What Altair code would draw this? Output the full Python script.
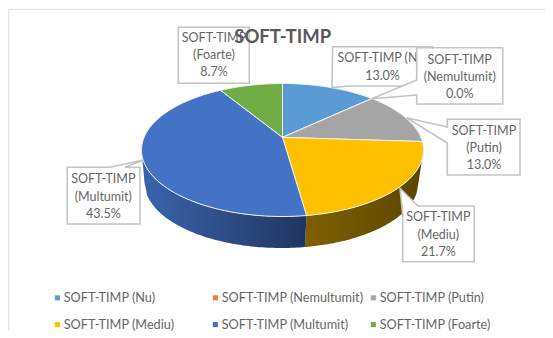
import math
import altair as alt

# ---- chart values ----
categories = ["SOFT-TIMP (Nu)", "SOFT-TIMP (Nemultumit)", "SOFT-TIMP (Putin)",
              "SOFT-TIMP (Mediu)", "SOFT-TIMP (Multumit)", "SOFT-TIMP (Foarte)"]
percent = [13.0, 0.0, 13.0, 21.7, 43.5, 8.7]
colors = ["#5B9BD5", "#ED7D31", "#A5A5A5", "#FFC000", "#4472C4", "#70AD47"]
label_names = [["SOFT-TIMP (Nu)"], ["SOFT-TIMP", "(Nemultumit)"], ["SOFT-TIMP", "(Putin)"],
               ["SOFT-TIMP", "(Mediu)"], ["SOFT-TIMP", "(Multumit)"], ["SOFT-TIMP", "(Foarte)"]]
legend_sequence = [0, 3, 1, 4, 2, 5]   # the legend fills its grid column by column

# ---- layout (image pixels; the page margin is removed below) ----
M = 8
W, H = 537, 322
CX, CY, RX, RY = 282.5, 150.0, 141.0, 66.5     # top ellipse
BX, BY, BRX, BRY = 281.5, 182.5, 137.0, 65.5   # bottom ellipse
TILT = 0.19                                     # apex offset of the perspective
FONT = "Lato"
TEXT = "#666666"
BOX = "#c4c4c4"
LINE = 17.2

label_outlines = [
    [(332.7, 46.7), (432.7, 46.7), (432.7, 86), (349, 86), (332, 87.5)],
    [(416.7, 47.7), (502.7, 47.7), (502.7, 104), (416.7, 104), (416.7, 95), (371.7, 98.7), (416.7, 80)],
    [(447.3, 119.3), (520, 119.3), (520, 175), (447.3, 175), (447.3, 143), (406.7, 117.7), (447.3, 127)],
    [(402.7, 261.7), (402.7, 215), (400, 188.3), (418, 206), (474.3, 206), (474.3, 261.7)],
    [(67.3, 167.3), (110, 167.3), (143.3, 160), (125, 167.3), (140, 167.3), (140, 224), (67.3, 224)],
    [(178.3, 27.3), (249.3, 27.3), (249.3, 83.3), (178.3, 83.3)],
]
label_text_at = [(382.5, 58.3), (459.7, 60.0), (484.0, 131.0), (438.3, 217.3), (103.3, 179.3), (214.0, 38.0)]


def px(x, y):
    return [x - M, y - M]


def feature(ring, **props):
    return {"type": "Feature", "properties": props,
            "geometry": {"type": "Polygon", "coordinates": [ring + [ring[0]]]}}


def rim(frac):
    """Point on the top ellipse for a pie fraction, seen in perspective."""
    a = 2 * math.pi * frac
    u, v = math.sin(a), math.cos(a)
    d = 1 + TILT * v
    return u * math.sqrt(1 - TILT ** 2) / d, (v + TILT) / d


APEX = px(CX, CY - RY * TILT)

top_features = []
edges = [0.0]
for p in percent:
    edges.append(edges[-1] + p / sum(percent))
for i, cat in enumerate(categories):
    ring = [APEX]
    n = max(2, int((edges[i + 1] - edges[i]) * 180))
    for k in range(n + 1):
        u, v = rim(edges[i] + (edges[i + 1] - edges[i]) * k / n)
        ring.append(px(CX + RX * u, CY - RY * v))
    top_features.append(feature(ring, cat=cat))


def wall(x0, x1):
    """Side wall between the two ellipses, x0/x1 in -1..1 along the front edge."""
    n = 60
    upper, lower = [], []
    for k in range(n + 1):
        t = x0 + (x1 - x0) * k / n
        s = math.sqrt(max(0.0, 1 - t * t))
        upper.append(px(CX + RX * t, CY + RY * s))
        lower.append(px(BX + BRX * t, BY + BRY * s))
    return upper + lower[::-1]


seam = rim(edges[4])[0]   # front seam between Mediu and Multumit
wall_mediu = [feature(wall(seam, 1.0), cat=categories[3])]
wall_multumit = [feature(wall(-1.0, seam), cat=categories[4])]

box_features = [feature([px(*q) for q in o], order=i) for i, o in enumerate(label_outlines)]
text_rows = []
for i, (c, y0) in enumerate(label_text_at):
    for j, s in enumerate(label_names[i] + [f"{percent[i]:.1f}%"]):
        text_rows.append({"t": s, "x": c - M, "y": y0 + j * LINE - M, "k": i})

PROJ = dict(type="identity", scale=1, translate=[0, 0])


def geo(feats):
    return alt.Chart(alt.Data(values=feats), width=W, height=H)


def wall_layer(feats, c0, c1):
    return geo(feats).mark_geoshape(
        fill=alt.Gradient(gradient="linear", x1=0, x2=1, y1=0, y2=0,
                          stops=[alt.GradientStop(color=c0, offset=0),
                                 alt.GradientStop(color=c1, offset=1)]),
        strokeWidth=0).project(**PROJ)


def box_layer(feats):
    return geo(feats).mark_geoshape(fill="white", stroke=BOX, strokeWidth=1.6).project(**PROJ)


def text_layer(rows):
    return alt.Chart(alt.Data(values=rows)).mark_text(
        font=FONT, fontSize=12.5, color=TEXT, align="center", baseline="middle").encode(
        x=alt.X("x:Q", scale=None), y=alt.Y("y:Q", scale=None), text="t:N")


frame = alt.Chart(alt.Data(values=[{"a": 0}])).mark_rule(color="#e4e4e4", strokeWidth=1.5).encode(
    x=alt.value(0), x2=alt.value(W), y=alt.value(1.5))
frame_left = alt.Chart(alt.Data(values=[{"a": 0}])).mark_rule(color="#e4e4e4", strokeWidth=1.5).encode(
    x=alt.value(0.7), y=alt.value(1.5), y2=alt.value(H))

top = geo(top_features).mark_geoshape(stroke="#f2f2f2", strokeWidth=1).encode(
    color=alt.Color("properties.cat:N",
                    scale=alt.Scale(domain=[categories[i] for i in legend_sequence],
                                    range=[colors[i] for i in legend_sequence]),
                    legend=alt.Legend(title=None, orient="none", legendX=43, legendY=283,
                                      columns=3, gridAlign="all", columnPadding=3,
                                      rowPadding=13.2, symbolType="square", symbolSize=26,
                                      symbolStrokeWidth=0, labelFont=FONT, labelFontSize=12.7,
                                      labelColor=TEXT, labelLimit=200, labelOffset=0,
                                      padding=0))
).project(**PROJ)

chart = alt.layer(
    frame, frame_left,
    wall_layer(wall_mediu, "#7f6000", "#5c4500"),
    wall_layer(wall_multumit, "#3a65ad", "#1f3560"),
    top,
    box_layer(box_features[:1]), text_layer([r for r in text_rows if r["k"] == 0]),
    box_layer(box_features[1:]), text_layer([r for r in text_rows if r["k"] != 0]),
).properties(
    width=W, height=H,
    title=alt.TitleParams("SOFT-TIMP", font=FONT, fontSize=18.5, fontWeight="bold", color="#595959",
                          anchor="start", dx=227, dy=47, baseline="middle", offset=0, zindex=1),
    padding=alt.Padding(left=0, top=0, right=0, bottom=6),
    autosize=alt.AutoSizeParams(type="none"),
).configure_view(stroke=None)

chart.save("out.html", embed_options={"renderer": "svg", "actions": False})
